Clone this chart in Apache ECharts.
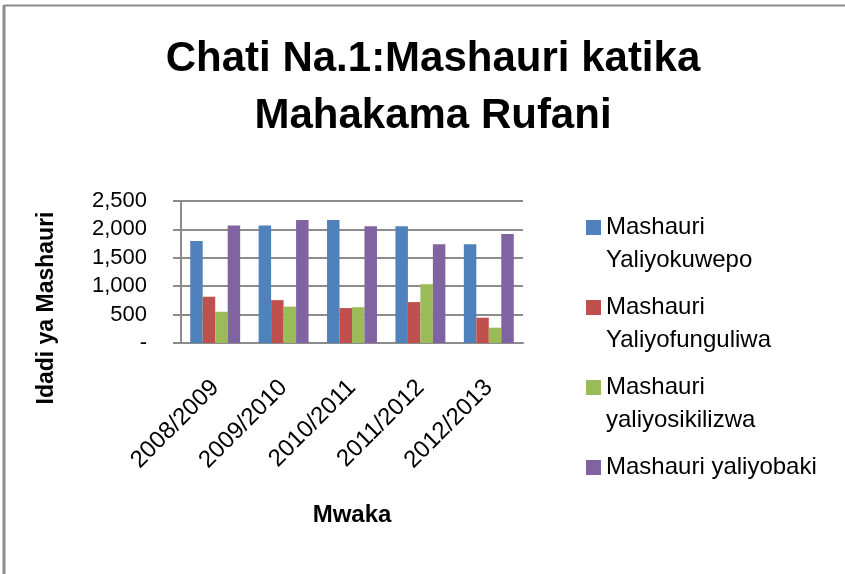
<!DOCTYPE html>
<html>
<head>
<meta charset="utf-8">
<script src="https://cdn.jsdelivr.net/npm/echarts@6/dist/echarts.min.js"></script>
<style>
  html, body { margin: 0; padding: 0; background: #fff; }
  #chart { width: 845px; height: 574px; }
</style>
</head>
<body>
<div id="chart"></div>
<script>
// miaka (categories)
const miaka = ['2008/2009', '2009/2010', '2010/2011', '2011/2012', '2012/2013']
// majina ya mfululizo
const majina = ['Mashauri Yaliyokuwepo', 'Mashauri Yaliyofunguliwa', 'Mashauri yaliyosikilizwa', 'Mashauri yaliyobaki']
// maandishi ya legend (mstari tupu juu ili mstari wa kwanza ukae sawa na kisanduku)
const legendLabels = ['\nMashauri\nYaliyokuwepo', '\nMashauri\nYaliyofunguliwa', '\nMashauri\nyaliyosikilizwa', '\nMashauri yaliyobaki\n']
// thamani zilizosomwa kutoka kwenye picha
const yaliyokuwepo = [1795, 2070, 2165, 2055, 1740]
const yaliyofunguliwa = [815, 755, 615, 720, 445]
const yaliyosikilizwa = [550, 640, 630, 1035, 270]
const yaliyobaki = [2070, 2165, 2055, 1740, 1920]
const rangi = ['#4F81BD', '#C0504D', '#9BBB59', '#8064A2']

const myChart = echarts.init(document.getElementById('chart'))
const font = 'Liberation Sans, Arial, sans-serif'
const gray = '#8c8c8c'

const data = [yaliyokuwepo, yaliyofunguliwa, yaliyosikilizwa, yaliyobaki]

const option = {
  animation: false,
  textStyle: { fontFamily: font },
  title: {
    text: 'Chati Na.1:Mashauri katika\nMahakama Rufani',
    left: 428,
    textAlign: 'center',
    top: 26,
    textStyle: { fontSize: 42, fontWeight: 'bold', color: '#000', lineHeight: 57, fontFamily: font },
  },
  legend: {
    orient: 'vertical',
    left: 586,
    top: 178,
    padding: 0,
    itemWidth: 15,
    itemHeight: 15,
    itemGap: -19,
    icon: 'rect',
    data: majina,
    formatter: function (name) {
      return legendLabels[majina.indexOf(name)]
    },
    textStyle: { fontSize: 24, lineHeight: 33, color: '#000', fontFamily: font },
  },
  grid: { left: 181, right: 322, top: 201, bottom: 231 },
  xAxis: {
    type: 'category',
    data: miaka,
    name: 'Mwaka',
    nameLocation: 'middle',
    nameGap: 160,
    nameTextStyle: { fontSize: 24, fontWeight: 'bold', color: '#000', fontFamily: font },
    axisLine: { lineStyle: { color: gray, width: 2 } },
    axisTick: { show: false },
    axisLabel: { rotate: 45, margin: 41, fontSize: 24, color: '#000', interval: 0 },
  },
  yAxis: {
    type: 'value',
    min: 0,
    max: 2500,
    interval: 500,
    axisLine: { show: true, lineStyle: { color: gray, width: 2 } },
    axisTick: { show: true, length: 8, lineStyle: { color: gray, width: 2 } },
    splitLine: { lineStyle: { color: gray, width: 2 } },
    axisLabel: {
      margin: 34,
      fontSize: 22,
      color: '#000',
      formatter: function (v) {
        return v === 0 ? '-' : v.toLocaleString('en-US')
      },
    },
  },
  series: majina.map(function (n, i) {
    return {
      name: n,
      type: 'bar',
      data: data[i],
      barGap: '0%',
      barCategoryGap: '27%',
      itemStyle: { color: rangi[i] },
    }
  }),
  graphic: [
    {
      type: 'text',
      x: 47,
      y: 308,
      rotation: Math.PI / 2,
      style: {
        text: 'Idadi ya Mashauri',
        fontSize: 23,
        fontWeight: 'bold',
        fill: '#000',
        align: 'center',
        verticalAlign: 'middle',
        fontFamily: font,
      },
    },
    {
      type: 'line',
      shape: { x1: 4, y1: 5, x2: 4, y2: 574 },
      style: { stroke: gray, lineWidth: 3 },
    },
    {
      type: 'line',
      shape: { x1: 4, y1: 5.5, x2: 845, y2: 5.5 },
      style: { stroke: gray, lineWidth: 2 },
    },
  ],
}
myChart.setOption(option)
</script>
</body>
</html>
